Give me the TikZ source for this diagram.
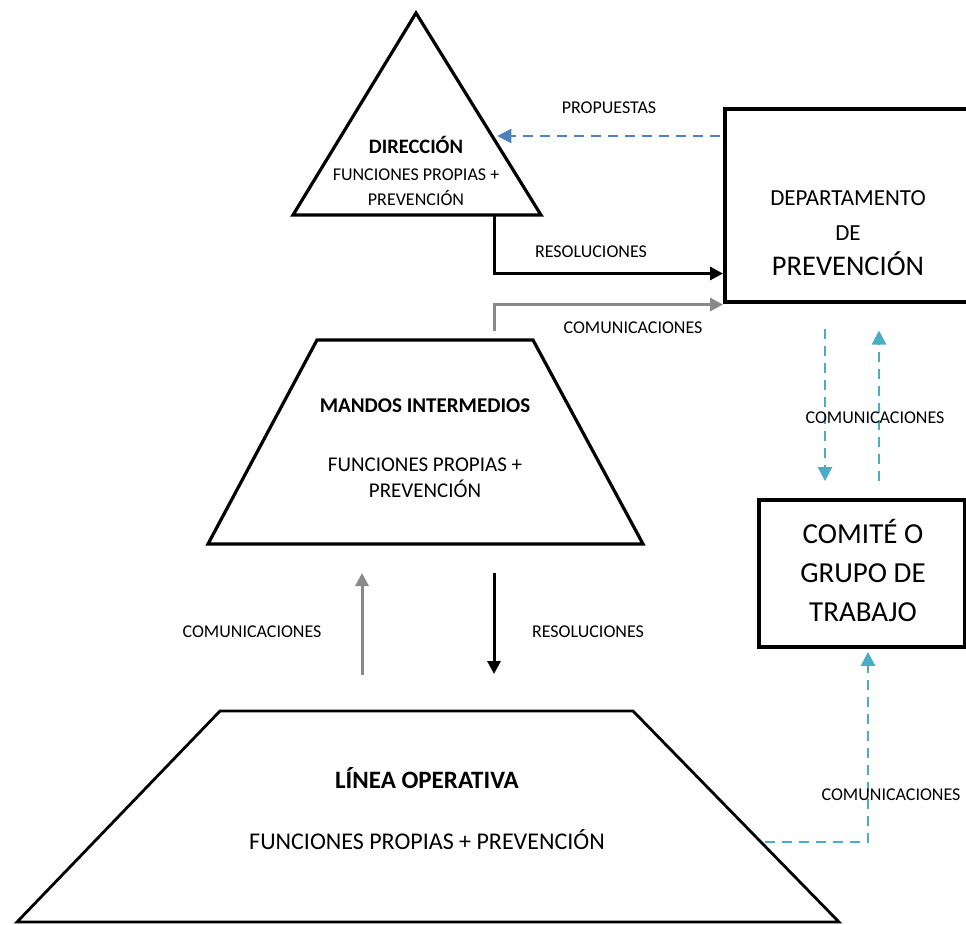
\documentclass[tikz,border=0pt]{standalone}
\usepackage{fontspec}
\setmainfont{Carlito}
\usepackage{tikz}
\usetikzlibrary{positioning}
\usetikzlibrary{calc}
\usetikzlibrary{arrows.meta}
\definecolor{azul}{RGB}{79,129,189}
\definecolor{celeste}{RGB}{75,172,198}
\definecolor{gris}{RGB}{137,137,137}
\tikzstyle{forma} = [draw, line width=3.2pt, line join=miter]
\tikzstyle{caja} = [draw, line width=3.5pt, inner sep=0pt]
\tikzstyle{flecha} = [draw, line width=3pt, -{Triangle[length=13pt,width=13pt]}]
\tikzstyle{discont} = [draw, line width=2.6pt, dash pattern=on 10pt off 7pt, -{Triangle[length=14pt,width=14pt]}]
\tikzstyle{etiq} = [anchor=base, inner sep=0pt, font=\fontsize{18}{22}\selectfont]

\begin{document}
\begin{tikzpicture}[x=1pt, y=-1pt]

	\useasboundingbox (0,0) rectangle (966,924);
	\clip (0,0) rectangle (966,924);

	% direccion
	\coordinate (dirTop) at (416,13);
	\coordinate (dirL) at (293,215);
	\coordinate (dirR) at (541,215);
	\draw[forma] (dirTop) -- (dirR) -- (dirL) -- cycle;
	\node[etiq, font=\fontsize{20.5}{24}\selectfont\bfseries] (dirTit) at (416,153) {DIRECCIÓN};
	\node[etiq] (dirF) at (416,180) {FUNCIONES PROPIAS +};
	\node[etiq] (dirP) at (416,205) {PREVENCIÓN};

	% mandos intermedios
	\coordinate (mndTL) at (317,340);
	\coordinate (mndTR) at (533,340);
	\coordinate (mndBR) at (643,544);
	\coordinate (mndBL) at (208,544);
	\draw[forma] (mndTL) -- (mndTR) -- (mndBR) -- (mndBL) -- cycle;
	\node[etiq, font=\fontsize{21}{25}\selectfont\bfseries] (mndTit) at (425,412) {MANDOS INTERMEDIOS};
	\node[etiq, font=\fontsize{21}{25}\selectfont] (mndF) at (425,471) {FUNCIONES PROPIAS +};
	\node[etiq, font=\fontsize{21}{25}\selectfont] (mndP) at (425,497) {PREVENCIÓN};

	% linea operativa
	\coordinate (linTL) at (220,711);
	\coordinate (linTR) at (633,711);
	\coordinate (linBR) at (839,922);
	\coordinate (linBL) at (17,922);
	\draw[forma, line width=2.8pt] (linTL) -- (linTR) -- (linBR) -- (linBL) -- cycle;
	\node[etiq, font=\fontsize{25}{30}\selectfont\bfseries] (linTit) at (427,788) {LÍNEA OPERATIVA};
	\node[etiq, font=\fontsize{24}{29}\selectfont] (linF) at (427,849) {FUNCIONES PROPIAS + PREVENCIÓN};

	% departamento
	\node[caja, minimum width=252pt, minimum height=193pt, anchor=north west] (dept) at (723,107) {};
	\node[etiq, font=\fontsize{23}{28}\selectfont] (deptA) at (848,205) {DEPARTAMENTO};
	\node[etiq, font=\fontsize{23}{28}\selectfont] (deptB) at (848,240) {DE};
	\node[etiq, font=\fontsize{28.5}{34}\selectfont] (deptC) at (848,275) {PREVENCIÓN};

	% comite
	\node[caja, line width=3.8pt, minimum width=206pt, minimum height=147pt] (comite) at (862,573.5) {};
	\node[etiq, font=\fontsize{29}{34}\selectfont] (comA) at (863,543) {COMITÉ O};
	\node[etiq, font=\fontsize{29}{34}\selectfont] (comB) at (863,582) {GRUPO DE};
	\node[etiq, font=\fontsize{29}{34}\selectfont] (comC) at (863,621) {TRABAJO};

	% flechas arriba
	\coordinate (resIni) at (494,215);
	\coordinate (comIni) at (494,331);
	\coordinate (propIni) at ($(dept.north west)+(0,29)$);
	\coordinate (propFin) at ($(dirTop)!0.61!(dirR)$);
	\draw[discont, azul, shorten <=3pt, shorten >=5pt] (propIni) -- (propIni -| propFin);
	\draw[flecha, line join=miter] (resIni) |- ($(dept.south west)+(0,-30)$);
	\draw[flecha, gris, line join=miter] (comIni) |- ($(dept.south west)+(0,1)$);
	\node[etiq] (propLab) at (609,113) {PROPUESTAS};
	\node[etiq] (resLab) at (591,257) {RESOLUCIONES};
	\node[etiq] (comLab) at (633,333) {COMUNICACIONES};

	% flechas centro
	\coordinate (xGris) at (362,0);
	\coordinate (xNegra) at (494,0);
	\draw[flecha, gris, shorten <=36pt, shorten >=29pt] (linTL -| xGris) -- (mndBL -| xGris);
	\draw[flecha, shorten <=29pt, shorten >=37pt] (mndBL -| xNegra) -- (linTL -| xNegra);
	\node[etiq] (comLab2) at (252,637) {COMUNICACIONES};
	\node[etiq] (resLab2) at (588,637) {RESOLUCIONES};

	% comite <-> departamento
	\coordinate (xBaja) at (825,0);
	\coordinate (xSube) at (879,0);
	\coordinate (xCom) at (868,0);
	\draw[discont, celeste, shorten <=25pt, shorten >=17pt] (dept.south -| xBaja) -- (comite.north -| xBaja);
	\draw[discont, celeste, shorten <=17pt, shorten >=27pt] (comite.north -| xSube) -- (dept.south -| xSube);
	\node[etiq] (comLab3) at (875,423) {COMUNICACIONES};

	% linea -> comite
	\coordinate (linSal) at ($(linTR)!0.621!(linBR)$);
	\draw[discont, celeste, line join=miter, shorten <=4pt, shorten >=3pt] (linSal) -| (comite.south -| xCom);
	\node[etiq] (comLab4) at (891,800) {COMUNICACIONES};

\end{tikzpicture}
\end{document}
